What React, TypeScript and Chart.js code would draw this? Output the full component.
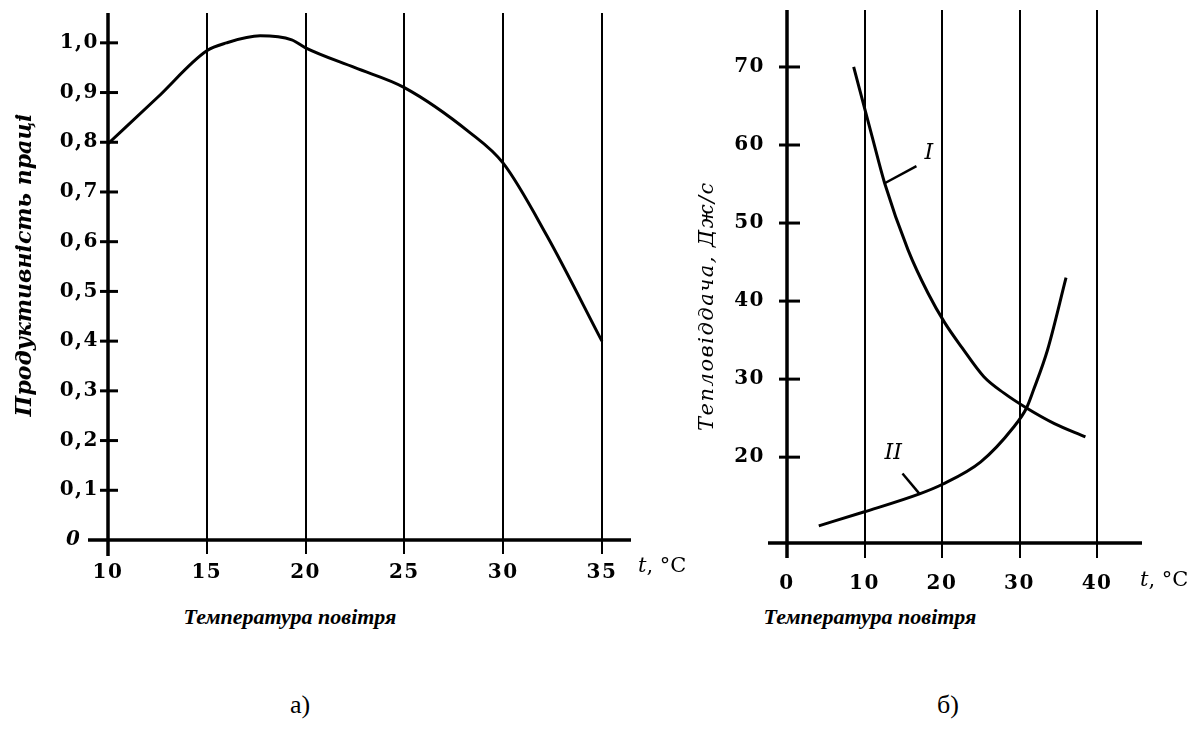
import React, { useEffect, useRef } from 'react';
import { Chart, registerables } from 'chart.js';

Chart.register(...registerables);

// ---------- Chart а) ----------
const A_TEMP = [10, 12.5, 15, 16, 17.7, 19.3, 20, 22.5, 25, 28.3, 30, 32.2, 35];
const A_PROD = [0.797, 0.89, 0.984, 1.0, 1.014, 1.006, 0.99, 0.95, 0.91, 0.82, 0.758, 0.613, 0.4];
const A_X_TICKS = [10, 15, 20, 25, 30, 35];
const A_Y_TICKS = [0, 0.1, 0.2, 0.3, 0.4, 0.5, 0.6, 0.7, 0.8, 0.9, 1.0];
const A_Y_LABELS = ['0', '0,1', '0,2', '0,3', '0,4', '0,5', '0,6', '0,7', '0,8', '0,9', '1,0'];
const A_Y_TITLE = 'Продуктивність праці';

// ---------- Chart б) ----------
const B_I_TEMP = [8.6, 11.0, 12.6, 15.6, 18.2, 20.3, 22.6, 25.4, 28, 30.9, 34.5, 38.5];
const B_I_HEAT = [70, 61, 55.1, 46.6, 41.0, 37.3, 34.0, 30.3, 28.2, 26.3, 24.3, 22.6];
const B_II_TEMP = [4.1, 10, 17.1, 20, 25, 29.2, 30.9, 31.8, 33.6, 36];
const B_II_HEAT = [11.2, 13.0, 15.3, 16.5, 19.4, 23.8, 26.3, 28.6, 33.7, 43];
const B_X_TICKS = [0, 10, 20, 30, 40];
const B_Y_TICKS = [20, 30, 40, 50, 60, 70];
const B_Y_TITLE = 'Тепловіддача, Дж/с';
// curve labels: text, text position, leader line (data coordinates)
const B_LABELS = [
  { text: 'I', x: 18.3, y: 59, from: [12.6, 55.1], to: [16.7, 57.3] },
  { text: 'II', x: 13.7, y: 20.5, from: [17.1, 15.3], to: [14.9, 17.9] },
];

const X_UNIT_T = 't';
const X_UNIT_REST = ', °C';
const CAPTION = 'Температура повітря';
const SUB_A = 'а)';
const SUB_B = 'б)';

const SERIF = "'DejaVu Serif', serif";

type Cfg = {
  yTitle: string;
  titleX: number;
  titleY: number;
  titleFont: string;
  titleSpacing: string;
  extLeft: number;
  extBelow: number;
  tickL: number;
  tickR: number;
  unitX: number;
  unitY: number;
  yTicks: number[];
  zeroLabel?: string;
  labels?: typeof B_LABELS;
};

function makePlugin(cfg: Cfg) {
  return {
    id: 'customAxes',
    beforeDraw(chart: any) {
      (chart.ctx as any).letterSpacing = '1.5px';
    },
    afterDraw(chart: any) {
      const { ctx, chartArea: ca, scales } = chart;
      const x = scales.x;
      const y = scales.y;
      ctx.save();
      ctx.letterSpacing = '0px';
      ctx.strokeStyle = '#000';
      ctx.fillStyle = '#000';
      ctx.lineCap = 'butt';
      // x axis
      ctx.lineWidth = 3.5;
      ctx.beginPath();
      ctx.moveTo(ca.left - cfg.extLeft, ca.bottom);
      ctx.lineTo(ca.right, ca.bottom);
      ctx.stroke();
      // y axis
      ctx.beginPath();
      ctx.moveTo(ca.left, ca.top);
      ctx.lineTo(ca.left, ca.bottom + cfg.extBelow);
      ctx.stroke();
      // y tick marks
      ctx.lineWidth = 3;
      for (const v of cfg.yTicks) {
        if (v === 0) continue;
        const py = y.getPixelForValue(v);
        ctx.beginPath();
        ctx.moveTo(ca.left - cfg.tickL, py);
        ctx.lineTo(ca.left + cfg.tickR, py);
        ctx.stroke();
      }
      // zero label
      if (cfg.zeroLabel) {
        ctx.font = `italic bold 20px ${SERIF}`;
        ctx.textAlign = 'right';
        ctx.textBaseline = 'middle';
        ctx.fillText(cfg.zeroLabel, ca.left - cfg.extLeft - 8, y.getPixelForValue(0));
      }
      // unit "t, °C"
      ctx.textBaseline = 'middle';
      ctx.textAlign = 'left';
      ctx.font = `italic 21px ${SERIF}`;
      ctx.fillText(X_UNIT_T, cfg.unitX, cfg.unitY);
      const w = ctx.measureText(X_UNIT_T).width;
      ctx.font = `21px ${SERIF}`;
      ctx.fillText(X_UNIT_REST, cfg.unitX + w, cfg.unitY);
      // y title
      ctx.save();
      ctx.translate(cfg.titleX, cfg.titleY);
      ctx.rotate(-Math.PI / 2);
      ctx.font = cfg.titleFont;
      ctx.letterSpacing = cfg.titleSpacing;
      ctx.textAlign = 'center';
      ctx.textBaseline = 'middle';
      ctx.fillText(cfg.yTitle, 0, 0);
      ctx.restore();
      // curve labels
      if (cfg.labels) {
        for (const l of cfg.labels) {
          ctx.lineWidth = 2.5;
          ctx.beginPath();
          ctx.moveTo(x.getPixelForValue(l.from[0]), y.getPixelForValue(l.from[1]));
          ctx.lineTo(x.getPixelForValue(l.to[0]), y.getPixelForValue(l.to[1]));
          ctx.stroke();
          ctx.font = `italic 22px ${SERIF}`;
          ctx.textAlign = 'center';
          ctx.textBaseline = 'middle';
          ctx.fillText(l.text, x.getPixelForValue(l.x), y.getPixelForValue(l.y));
        }
      }
      ctx.restore();
    },
  };
}

function lineDs(xs: number[], ys: number[]) {
  return {
    data: xs.map((v, i) => ({ x: v, y: ys[i] })),
    borderColor: '#000',
    borderWidth: 3,
    pointRadius: 0,
    fill: false,
    cubicInterpolationMode: 'monotone' as const,
    tension: 0.4,
  };
}

const tickFont = { family: SERIF, size: 20, weight: 'bold' as const };

function fixX(h: number) {
  return (s: any) => {
    s.height = h;
    s.paddingLeft = 0;
    s.paddingRight = 0;
  };
}
function fixY(w: number) {
  return (s: any) => {
    s.width = w;
    s.paddingTop = 0;
    s.paddingBottom = 0;
  };
}

function ChartA() {
  const ref = useRef<HTMLCanvasElement>(null);
  useEffect(() => {
    const chart = new Chart(ref.current!, {
      type: 'line',
      data: { datasets: [lineDs(A_TEMP, A_PROD)] },
      options: {
        animation: false,
        responsive: false,
        events: [],
        layout: { padding: { left: 0, top: 13, right: 89, bottom: 0 } },
        plugins: { legend: { display: false }, tooltip: { enabled: false } },
        scales: {
          x: {
            type: 'linear',
            min: 10,
            max: 36.47,
            afterBuildTicks: (s: any) => { s.ticks = A_X_TICKS.map((v) => ({ value: v })); },
            afterFit: fixX(60),
            grid: { color: '#000', lineWidth: 2, drawTicks: true, tickLength: 14, tickColor: '#000', tickWidth: 2 },
            border: { display: false },
            ticks: {
              autoSkip: false,
              maxRotation: 0,
              padding: 7,
              color: '#000',
              font: tickFont,
              callback: (_v: any, i: number) => String(A_X_TICKS[i]),
            },
          },
          y: {
            type: 'linear',
            min: 0,
            max: 1.06,
            afterBuildTicks: (s: any) => { s.ticks = A_Y_TICKS.map((v) => ({ value: v })); },
            afterFit: fixY(108),
            grid: { display: false, drawTicks: false },
            border: { display: false },
            ticks: {
              autoSkip: false,
              padding: 9,
              color: '#000',
              font: tickFont,
              callback: (_v: any, i: number) => (i === 0 ? '' : A_Y_LABELS[i]),
            },
          },
        },
      },
      plugins: [
        makePlugin({
          yTitle: A_Y_TITLE,
          titleX: 25,
          titleY: 265,
          titleFont: `italic bold 22px ${SERIF}`,
          titleSpacing: '0px',
          extLeft: 20,
          extBelow: 16,
          tickL: 8,
          tickR: 10,
          unitX: 638,
          unitY: 567,
          yTicks: A_Y_TICKS,
          zeroLabel: A_Y_LABELS[0],
        }),
      ],
    } as any);
    return () => chart.destroy();
  }, []);
  return <canvas ref={ref} width={720} height={600} style={{ position: 'absolute', left: 0, top: 0 }} />;
}

function ChartB() {
  const ref = useRef<HTMLCanvasElement>(null);
  useEffect(() => {
    const chart = new Chart(ref.current!, {
      type: 'line',
      data: { datasets: [lineDs(B_I_TEMP, B_I_HEAT), lineDs(B_II_TEMP, B_II_HEAT)] },
      options: {
        animation: false,
        responsive: false,
        events: [],
        layout: { padding: { left: 0, top: 10, right: 60, bottom: 0 } },
        plugins: { legend: { display: false }, tooltip: { enabled: false } },
        scales: {
          x: {
            type: 'linear',
            min: 0,
            max: 45.8,
            afterBuildTicks: (s: any) => { s.ticks = B_X_TICKS.map((v) => ({ value: v })); },
            afterFit: fixX(57),
            grid: { color: '#000', lineWidth: 2, drawTicks: true, tickLength: 15, tickColor: '#000', tickWidth: 2 },
            border: { display: false },
            ticks: {
              autoSkip: false,
              maxRotation: 0,
              padding: 14,
              color: '#000',
              font: tickFont,
              callback: (_v: any, i: number) => String(B_X_TICKS[i]),
            },
          },
          y: {
            type: 'linear',
            min: 9,
            max: 77.3,
            afterBuildTicks: (s: any) => { s.ticks = B_Y_TICKS.map((v) => ({ value: v })); },
            afterFit: fixY(97),
            grid: { display: false, drawTicks: false },
            border: { display: false },
            ticks: {
              autoSkip: false,
              padding: 22,
              color: '#000',
              font: tickFont,
              callback: (_v: any, i: number) => String(B_Y_TICKS[i]),
            },
          },
        },
      },
      plugins: [
        makePlugin({
          yTitle: B_Y_TITLE,
          titleX: 18,
          titleY: 306,
          titleFont: `italic 21px ${SERIF}`,
          titleSpacing: '1.5px',
          extLeft: 19,
          extBelow: 15,
          tickL: 8,
          tickR: 13,
          unitX: 450,
          unitY: 581,
          yTicks: B_Y_TICKS,
          labels: B_LABELS,
        }),
      ],
    } as any);
    return () => chart.destroy();
  }, []);
  return <canvas ref={ref} width={512} height={600} style={{ position: 'absolute', left: 690, top: 0 }} />;
}

const captionStyle: React.CSSProperties = {
  position: 'absolute',
  width: 400,
  textAlign: 'center',
  font: "italic bold 22px 'Liberation Serif', serif",
  lineHeight: '22px',
  color: '#000',
  whiteSpace: 'nowrap',
};
const subStyle: React.CSSProperties = {
  position: 'absolute',
  width: 100,
  textAlign: 'center',
  font: "26px 'Liberation Serif', serif",
  lineHeight: '26px',
  color: '#000',
};

export default function App() {
  return (
    <div style={{ position: 'absolute', left: 0, top: 0, width: 1202, height: 729, background: '#fff', overflow: 'hidden' }}>
      <ChartA />
      <ChartB />
      <div style={{ ...captionStyle, left: 290 - 200, top: 606 }}>{CAPTION}</div>
      <div style={{ ...captionStyle, left: 870 - 200, top: 606 }}>{CAPTION}</div>
      <div style={{ ...subStyle, left: 300 - 50, top: 692 }}>{SUB_A}</div>
      <div style={{ ...subStyle, left: 948 - 50, top: 692 }}>{SUB_B}</div>
    </div>
  );
}
